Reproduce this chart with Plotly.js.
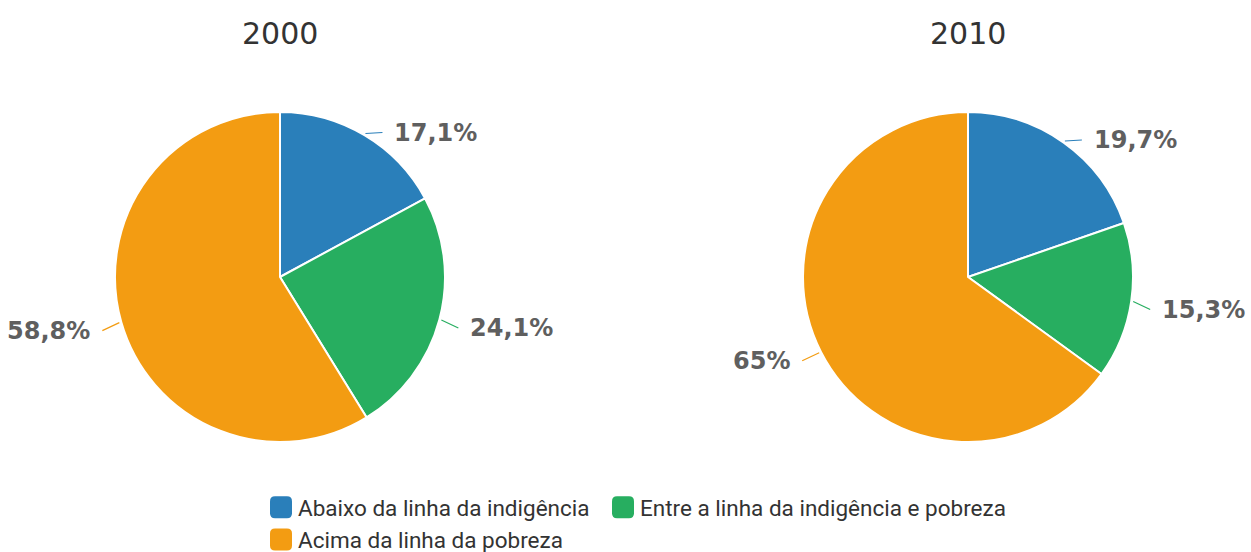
<!DOCTYPE html>
<html>
<head>
<meta charset="utf-8">
<script src="https://cdn.plot.ly/plotly-3.0.1.min.js"></script>
<style>html,body{margin:0;padding:0;background:#fff;}#chart{width:1251px;height:552px;}</style>
</head>
<body>
<div id="chart"></div>
<script>
const categories = ["Abaixo da linha da indigência", "Entre a linha da indigência e pobreza", "Acima da linha da pobreza"];
const years = ["2000", "2010"];
const values2000 = [17.1, 24.1, 58.8];
const values2010 = [19.7, 15.3, 65];
const colors = ["#2a7fba", "#27ae60", "#f39c12"];

const W = 1251, H = 552;
const M = {l: 115, r: 118, t: 0, b: 0, autoexpand: false};
const gw = W - M.l - M.r, gh = H - M.t - M.b;
const R = 165;
const centers = [{x: 280, y: 277}, {x: 968, y: 277}];
const px2x = p => (p - M.l) / gw;
const px2y = p => 1 - (p - M.t) / gh;
const fmt = v => String(v).replace('.', ',') + '%';

const allValues = [values2000, values2010];
const traces = [];
const annotations = [];

allValues.forEach((vals, i) => {
  const c = centers[i];
  traces.push({
    type: 'pie',
    values: vals,
    labels: categories,
    sort: false,
    direction: 'clockwise',
    rotation: 0,
    textinfo: 'none',
    hoverinfo: 'label+percent',
    marker: {colors: colors, line: {color: '#ffffff', width: 2}},
    domain: {x: [px2x(c.x - R), px2x(c.x + R)], y: [px2y(c.y + R), px2y(c.y - R)]},
    showlegend: i === 0
  });
  annotations.push({
    text: years[i], showarrow: false,
    x: px2x(c.x), y: px2y(33), xref: 'paper', yref: 'paper',
    xanchor: 'center', yanchor: 'middle',
    font: {family: 'DejaVu Sans', size: 30, color: '#333333'}
  });
  const total = vals.reduce((a, b) => a + b, 0);
  let cum = 0;
  vals.forEach((v, j) => {
    const mid = (cum + v / 2) / total * 2 * Math.PI;
    cum += v;
    const s = Math.sin(mid), co = Math.cos(mid);
    const hx = c.x + (R + 2) * s, hy = c.y - (R + 2) * co;
    const right = s >= 0;
    annotations.push({
      text: fmt(v),
      x: px2x(hx), y: px2y(hy), xref: 'paper', yref: 'paper',
      showarrow: true, arrowhead: 0, arrowwidth: 1.2, arrowcolor: colors[j],
      ax: right ? 17 : -17, ay: co > 0.5 ? -1 : 8,
      xanchor: right ? 'left' : 'right', yanchor: 'middle',
      borderpad: 11,
      font: {family: 'DejaVu Sans', size: 24, color: '#5f5f5f', weight: 'bold'}
    });
  });
});

const layout = {
  width: W, height: H,
  margin: M,
  paper_bgcolor: '#ffffff',
  showlegend: true,
  legend: {
    orientation: 'h', x: px2x(258), xanchor: 'left', y: px2y(486), yanchor: 'top',
    entrywidth: 297, entrywidthmode: 'pixels',
    font: {family: 'Roboto', size: 22.5, color: '#333333'},
    traceorder: 'normal'
  },
  annotations: annotations
};

Plotly.newPlot('chart', traces, layout, {displayModeBar: false, staticPlot: true}).then(gd => {
  // let long legend entries overflow their fixed entry width
  gd.querySelectorAll('.legend [clip-path]').forEach(el => el.removeAttribute('clip-path'));
  // larger rounded legend swatches
  gd.querySelectorAll('.legend .legendpoints path').forEach(p => {
    p.setAttribute('d', 'M-3,-11H9Q14,-11 14,-6V6Q14,11 9,11H-3Q-8,11 -8,6V-6Q-8,-11 -3,-11Z');
    p.style.strokeWidth = '0px';
  });
});
</script>
</body>
</html>
